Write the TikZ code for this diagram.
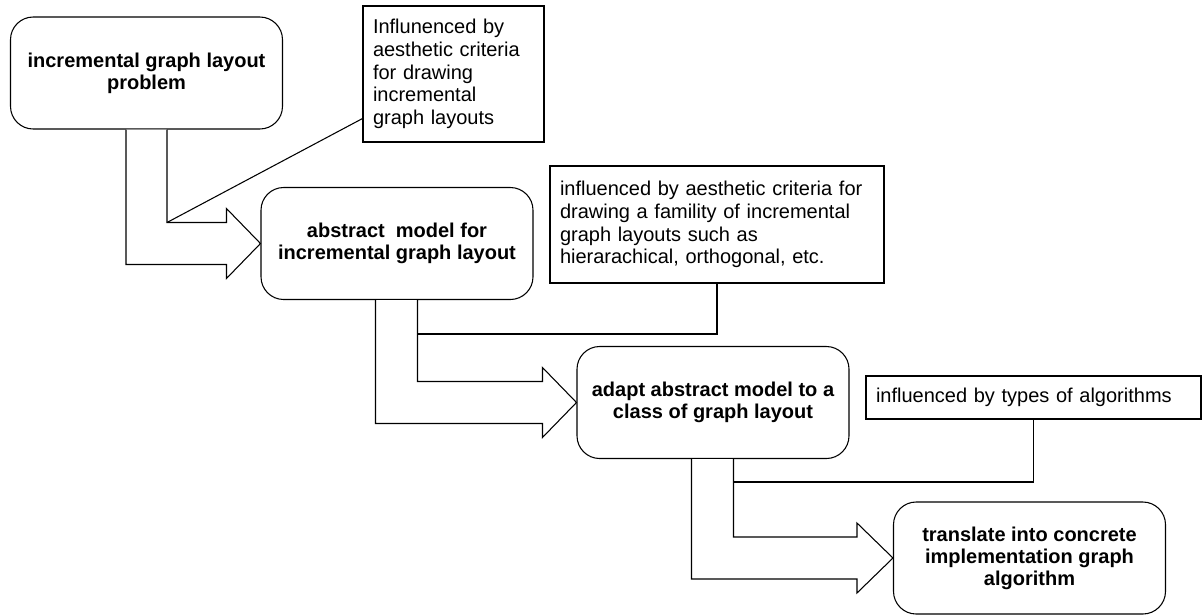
\documentclass[tikz,border=0pt]{standalone}
\usepackage{fontspec}
\setmainfont{Liberation Sans}
\usetikzlibrary{calc}
\tikzset{
  procbox/.style={draw, line width=0.8pt, rounded corners=17pt, minimum width=204pt, minimum height=84pt,
    align=center, inner sep=0pt, font=\fontsize{15pt}{16.5pt}\selectfont\bfseries},
  annot/.style={draw, line width=0.8pt, align=left, inner ysep=0pt, inner xsep=7.5pt,
    font=\fontsize{15pt}{17pt}\selectfont},
  bentarrow/.style={draw, fill=white, line width=0.8pt, line join=miter},
  callout/.style={draw, line width=0.8pt}
}
\begin{document}
\begin{tikzpicture}[x=0.75pt,y=-0.75pt]
\useasboundingbox[fill=white] (0,0) rectangle (1203,615);

% process boxes
\node[procbox] (b1) at (146.5,73) {incremental graph layout\\problem};
\node[procbox] (b2) at (397,243.5) {abstract\ \ model for\\incremental graph layout};
\node[procbox] (b3) at (713,402.5) {adapt abstract model to a\\class of graph layout};
\node[procbox] (b4) at (1029.5,558) {translate into concrete\\implementation graph\\algorithm};

% annotations
\node[annot, text width=120.75pt, minimum height=102pt] (ann1) at (453.5,74)
  {Influnenced by\\aesthetic criteria\\for drawing\\incremental\\graph layouts};
\node[annot, text width=235.5pt, minimum height=87.75pt] (ann2) at (717,224.5)
  {influenced by aesthetic criteria for\\drawing a famility of incremental\\graph layouts such as\\hierarachical, orthogonal, etc.};
\node[annot, text width=236.25pt, minimum height=32.25pt] (ann3) at (1033.5,397.5)
  {influenced by types of algorithms};

% bent block arrows
\path[bentarrow] ($(b1.south west)+(116,0)$) |- ($(b2.west)+(-34,21)$) -- ++(0,14) -- (b2.west)
  -- ($(b2.west)+(-34,-35)$) -- ++(0,14) -| ($(b1.south west)+(157,0)$);
\path[bentarrow] ($(b2.south west)+(115,0)$) |- ($(b3.west)+(-34,21)$) -- ++(0,14) -- (b3.west)
  -- ($(b3.west)+(-34,-35)$) -- ++(0,14) -| ($(b2.south west)+(157,0)$);
\path[bentarrow] ($(b3.south west)+(115,0)$) |- ($(b4.west)+(-36,21)$) -- ++(0,14) -- (b4.west)
  -- ($(b4.west)+(-36,-35)$) -- ++(0,14) -| ($(b3.south west)+(157,0)$);

% callout connectors
\coordinate (k1) at (167,222.5);
\coordinate (k2) at (418,334);
\coordinate (k3) at (734,482);
\path[callout] (k1) -- ($(ann1.south west)+(0,-24)$);
\path[callout] (ann2.south) |- (k2);
\path[callout] (ann3.south) |- (k3);
\end{tikzpicture}
\end{document}
